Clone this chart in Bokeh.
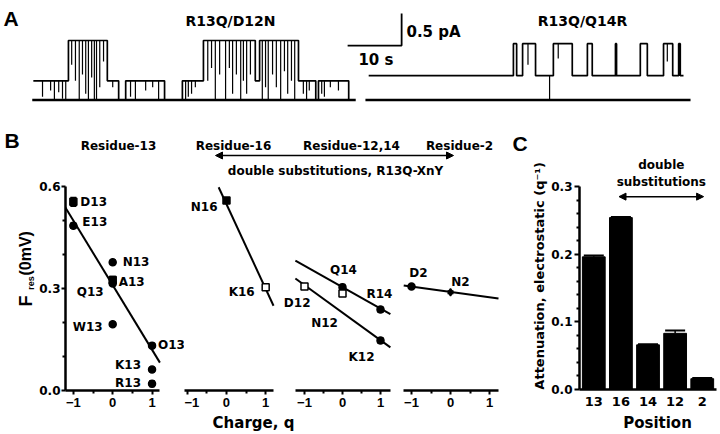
import numpy as np
from bokeh.plotting import figure
from bokeh.layouts import row, column
from bokeh.models import (Range1d, FixedTicker, Label, Whisker, TeeHead, ColumnDataSource,
                          Arrow, NormalHead, NumeralTickFormatter)
from bokeh.embed import file_html
from bokeh.resources import INLINE
from bokeh.core.properties import value

BOLD = "DejaVu Sans"
ARIAL = "Liberation Sans"

# ---------------- Panel A: single-channel recordings (time s, current pA) ----------------
trace1_name = "R13Q/D12N"
trace1_breaks = [4.6, 11.1, 18.3, 20.4, 21.7, 28.9, 32.2, 36.1, 45.7, 46.5, 53.7, 56.9, 57.4, 63.0, 63.3]
trace1_levels = [0.30, 0.93, 0.30, 0.0, 0.30, 0.0, 0.30, 0.93, 0.30, 0.93, 0.30, 0.0, 0.30, 0.0]
trace1_spike_t = [6.3, 7.8, 8.5, 9.3, 10.0, 10.6, 11.7, 12.4, 13.1, 13.7, 14.3, 14.8, 15.4, 15.9, 16.3,
                  16.9, 17.6, 19.3, 22.6, 23.5, 25.4, 26.7, 27.8, 32.8, 33.3, 33.9, 34.6, 36.9, 37.6,
                  38.3, 39.1, 40.2, 40.9, 41.5, 42.2, 43.0, 43.5, 44.1, 44.8, 47.0, 47.6, 48.1, 48.9,
                  49.6, 50.4, 51.1, 51.7, 52.4, 53.0, 54.6, 55.2, 55.7, 58.0, 58.5, 59.6, 61.1]
trace1_spike_to = [0.05, 0.15, 0.0, 0.12, 0.02, 0.0, 0.55, 0.3, 0.0, 0.4, 0.1, 0.0, 0.35, 0.0, 0.0,
                   0.2, 0.6, 0.2, 0.05, 0.0, 0.15, 0.2, 0.0, 0.0, 0.05, 0.1, 0.2, 0.3, 0.5,
                   0.0, 0.4, 0.0, 0.5, 0.1, 0.4, 0.0, 0.3, 0.1, 0.4, 0.0, 0.2, 0.0, 0.4,
                   0.2, 0.0, 0.45, 0.1, 0.3, 0.0, 0.1, 0.0, 0.15, 0.1, 0.05, 0.2, 0.15]
trace1_zero = [4.4, 64.3]

trace2_name = "R13Q/Q14R"
trace2_breaks = [66.7, 93.5, 94.1, 95.2, 97.6, 100.9, 104.4, 107.2, 108.1, 112.4, 112.6, 117.0,
                 118.3, 121.3, 123.0, 124.1, 124.4, 125.0]
trace2_levels = [0.38, 0.88, 0.38, 0.88, 0.38, 0.88, 0.38, 0.88, 0.38, 0.88, 0.38, 0.88, 0.38,
                 0.88, 0.38, 0.88, 0.38]
trace2_spike_t = [100.2, 96.2, 101.8, 122.0]
trace2_spike_to = [0.0, 0.55, 0.65, 0.6]
trace2_zero = [66.1, 126.3]

scale_time_s = 10.0
scale_current_pA = 0.5

# ---------------- Panel B: F_res(0 mV) vs charge ----------------
r13_names = ["D13", "E13", "N13", "A13", "Q13", "W13", "O13", "K13", "R13"]
r13_charge = [-1, -1, 0, 0, 0, 0, 1, 1, 1]
r13_fres = [0.555, 0.485, 0.377, 0.325, 0.315, 0.195, 0.132, 0.062, 0.020]
r13_err = [0.013, 0.008, 0.006, 0.010, 0.006, 0.006, 0.006, 0.006, 0.008]

r16_names = ["N16", "K16"]
r16_charge = [0, 1]
r16_fres = [0.559, 0.304]
r16_err = [0.008, 0.008]

r1214_names = ["Q14", "R14", "D12", "N12", "K12"]
r1214_charge = [0, 1, -1, 0, 1]
r1214_fres = [0.304, 0.238, 0.306, 0.285, 0.147]
r1214_err = [0.008, 0.008, 0.008, 0.008, 0.008]

r2_names = ["D2", "N2"]
r2_charge = [-1, 0]
r2_fres = [0.306, 0.289]
r2_err = [0.004, 0.004]

fit_group = ["13", "16", "14", "12", "2"]
fit_intercept = [0.310, 0.548, 0.304, 0.229, 0.290]
fit_slope = [-0.190, -0.249, -0.063, -0.081, -0.016]
fit_xmin = [-1.23, -0.20, -1.24, -1.24, -1.20]
fit_xmax = [1.20, 1.20, 1.26, 1.26, 1.23]

# ---------------- Panel C: electrostatic attenuation ----------------
positions = ["13", "16", "14", "12", "2"]
attenuation = [0.196, 0.254, 0.066, 0.083, 0.016]
attenuation_err = [0.002, 0.001, 0.001, 0.004, 0.001]


def base_fig(**kw):
    p = figure(toolbar_location=None, output_backend="svg", outline_line_color=None,
               background_fill_color="white", border_fill_color="white", **kw)
    p.grid.visible = False
    return p


def blank_fig(w, h, xr, yr):
    return base_fig(width=w, height=h, x_range=Range1d(*xr), y_range=Range1d(*yr),
                    x_axis_location=None, y_axis_location=None, min_border=0)


def put_text(p, xs, ys, texts, size, font=BOLD, align="center", angle=0.0):
    p.text(x=xs, y=ys, text=texts, text_font=value(font), text_font_style="bold",
           text_font_size=size, text_baseline="middle", text_align=align, text_color="black",
           angle=angle)


def step_xy(breaks, levels):
    xs, ys = [], []
    for k, lv in enumerate(levels):
        xs += [breaks[k], breaks[k + 1]]
        ys += [lv, lv]
    return xs, ys


def level_at(t, breaks, levels):
    k = int(np.searchsorted(breaks, t, side="right")) - 1
    return levels[k]


def style_axis(ax, tick_out, minor_out, standoff, font, size):
    ax.axis_line_width = 2.5
    ax.major_tick_line_width = 2
    ax.minor_tick_line_width = 2
    ax.major_tick_out = tick_out
    ax.major_tick_in = 0
    ax.minor_tick_out = minor_out
    ax.minor_tick_in = 0
    ax.major_label_standoff = standoff
    ax.major_label_text_font = font
    ax.major_label_text_font_style = "bold"
    ax.major_label_text_font_size = size
    ax.major_label_text_color = "black"


# ---------------- Figure A ----------------
pA = blank_fig(720, 125, (-1.481, 131.85), (-0.398, 1.555))
for brk, lev, st, sto, zero in [(trace1_breaks, trace1_levels, trace1_spike_t, trace1_spike_to, trace1_zero),
                                (trace2_breaks, trace2_levels, trace2_spike_t, trace2_spike_to, trace2_zero)]:
    xs, ys = step_xy(brk, lev)
    pA.line(xs, ys, line_color="black", line_width=1.7)
    top = [level_at(t, brk, lev) for t in st]
    pA.segment(x0=st, y0=top, x1=st, y1=sto, line_color="black", line_width=1.2)
    pA.line(zero, [0, 0], line_color="black", line_width=2.6)

sb_x, sb_y = 72.8, 0.85
pA.line([sb_x - scale_time_s, sb_x, sb_x], [sb_y, sb_y, sb_y + scale_current_pA],
        line_color="black", line_width=1.8)
put_text(pA, [sb_x + 0.9], [sb_y + 0.21], ["%g pA" % scale_current_pA], "15px", align="left")
put_text(pA, [sb_x - 8.0], [0.62], ["%d s" % scale_time_s], "15px", align="left")
put_text(pA, [41.1, 106.3], [1.24, 1.24], [trace1_name, trace2_name], "14px")
put_text(pA, [-0.93], [1.27], ["A"], "21px", font=ARIAL, align="left")

# ---------------- Header of B ----------------
pH = blank_fig(505, 55, (0, 505), (180, 125))
put_text(pH, [4], [140], ["B"], "21px", font=ARIAL, align="left")
put_text(pH, [118, 233, 351, 459], [145] * 4,
         ["Residue-13", "Residue-16", "Residue-12,14", "Residue-2"], "12px")
put_text(pH, [335], [170], ["double substitutions, R13Q-XnY"], "12px")
pH.add_layout(Arrow(x_start=215, y_start=155, x_end=453, y_end=155, line_width=1.5,
                    start=NormalHead(size=7, fill_color="black", line_color="black"),
                    end=NormalHead(size=7, fill_color="black", line_color="black")))

# ---------------- y label of B ----------------
pYL = blank_fig(36, 233, (0, 36), (413, 180))
put_text(pYL, [25], [318], ["F"], "18px", font=ARIAL, align="left", angle=np.pi / 2)
put_text(pYL, [30.5], [299], ["res"], "9px", font=ARIAL, align="left", angle=np.pi / 2)
put_text(pYL, [25], [283], ["(0mV)"], "16px", font=ARIAL, align="left", angle=np.pi / 2)


# ---------------- B panels ----------------
def b_panel(width, left, xr, bounds, yaxis=False):
    p = base_fig(width=width, height=233, x_range=Range1d(*xr), y_range=Range1d(0, 0.606),
                 min_border_left=left, min_border_right=0, min_border_top=4, min_border_bottom=23,
                 y_axis_location="left" if yaxis else None)
    ax = p.xaxis[0]
    ax.bounds = bounds
    ax.ticker = FixedTicker(ticks=[-1, 0, 1], minor_ticks=[-0.5, 0.5])
    style_axis(ax, 4, 3, 3, ARIAL, "13px")
    return p


def draw_points(p, names, xs, ys, errs, markers, fills, offsets):
    src = ColumnDataSource(dict(x=xs, y=ys, lo=[a - b for a, b in zip(ys, errs)],
                                hi=[a + b for a, b in zip(ys, errs)]))
    p.add_layout(Whisker(source=src, base="x", upper="hi", lower="lo", dimension="height",
                         line_width=1.5, line_color="black",
                         upper_head=TeeHead(size=6, line_width=1.5),
                         lower_head=TeeHead(size=6, line_width=1.5)))
    for n, x, y, m, f, (dx, dy, al) in zip(names, xs, ys, markers, fills, offsets):
        p.scatter([x], [y], marker=m, size=7, fill_color=f, line_color="black", line_width=1.5)
        p.add_layout(Label(x=x, y=y, text=n, x_offset=dx, y_offset=-dy, text_align=al,
                           text_baseline="middle", text_font=BOLD, text_font_style="bold",
                           text_font_size="12px", text_color="black"))


def draw_fit(p, k):
    x0, x1 = fit_xmin[k], fit_xmax[k]
    p.line([x0, x1], [fit_intercept[k] + fit_slope[k] * x0, fit_intercept[k] + fit_slope[k] * x1],
           line_color="black", line_width=2)


# B1 residue 13
pB1 = b_panel(148, 27, (-1.2, 1.825), (-1.2, 1.2), yaxis=True)
ya = pB1.yaxis[0]
ya.bounds = (0, 0.6)
ya.ticker = FixedTicker(ticks=[0, 0.3, 0.6], minor_ticks=[0.1, 0.2, 0.4, 0.5])
ya.formatter = NumeralTickFormatter(format="0.0")
style_axis(ya, 4, 3, 1, BOLD, "12px")
draw_fit(pB1, 0)
draw_points(pB1, r13_names, r13_charge, r13_fres, r13_err,
            ["square", "circle", "circle", "square", "circle", "circle", "circle", "circle", "circle"],
            ["black"] * 9,
            [(7, 0, "left"), (9, -4, "left"), (10, 0, "left"), (6, 2, "left"), (-9, 9, "right"),
             (-10, 3, "right"), (6, -1, "left"), (-11, -4, "right"), (-11, -1, "right")])

# B2 residue 16
pB2 = b_panel(98, 0, (-1.071, 1.429), (-1.2, 1.2))
draw_fit(pB2, 1)
draw_points(pB2, r16_names, r16_charge, r16_fres, r16_err, ["square", "square"], ["black", "white"],
            [(-9, 7, "right"), (-11, 5, "right")])

# B3 residues 12, 14
pB3 = b_panel(114, 0, (-1.579, 1.421), (-1.24, 1.26))
draw_fit(pB3, 2)
draw_fit(pB3, 3)
draw_points(pB3, r1214_names, r1214_charge, r1214_fres, r1214_err,
            ["circle", "circle", "square", "square", "circle"],
            ["black", "black", "white", "white", "black"],
            [(1, -17, "center"), (-1, -16, "center"), (6, 17, "right"), (-18, 29, "center"), (-19, 16, "center")])

# B4 residue 2
pB4 = b_panel(109, 0, (-1.385, 1.41), (-1.2, 1.23))
draw_fit(pB4, 4)
draw_points(pB4, r2_names, r2_charge, r2_fres, r2_err, ["circle", "diamond"], ["black", "black"],
            [(7, -13, "center"), (10, -10, "center")])

# ---------------- Panel C ----------------
pCL = blank_fig(43, 288, (505, 548), (413, 125))
put_text(pCL, [512], [145], ["C"], "21px", font=ARIAL, align="left")
put_text(pCL, [539], [289], ["Attenuation, electrostatic (q\u207b\u00b9)"], "13px", angle=np.pi / 2)

bar_x = list(range(1, len(positions) + 1))
pC = base_fig(width=172, height=288, x_range=Range1d(0.473, 5.673), y_range=Range1d(0, 0.3901),
              min_border_left=29, min_border_right=0, min_border_top=0, min_border_bottom=24)
pC.vbar(x=bar_x, top=attenuation, width=0.84, fill_color="black", line_color="black")
csrc = ColumnDataSource(dict(x=bar_x, lo=attenuation,
                             hi=[a + e for a, e in zip(attenuation, attenuation_err)]))
pC.add_layout(Whisker(source=csrc, base="x", upper="hi", lower="lo", dimension="height",
                      line_color="black", line_width=1.5, lower_head=None,
                      upper_head=TeeHead(size=20, line_width=2, line_color="black")))
cy = pC.yaxis[0]
cy.bounds = (0, 0.3)
cy.ticker = FixedTicker(ticks=[0, 0.1, 0.2, 0.3],
                        minor_ticks=[0.02, 0.04, 0.06, 0.08, 0.12, 0.14, 0.16, 0.18, 0.22, 0.24, 0.26, 0.28])
cy.formatter = NumeralTickFormatter(format="0.0")
style_axis(cy, 5, 3, 2, BOLD, "12px")
cx = pC.xaxis[0]
cx.bounds = (0.33, 5.53)
cx.ticker = FixedTicker(ticks=bar_x)
cx.major_label_overrides = {x: s for x, s in zip(bar_x, positions)}
style_axis(cx, 0, 0, 7, BOLD, "13px")
cx.major_tick_line_color = None
cx.minor_tick_line_color = None

put_text(pC, [3.49, 3.49], [0.331, 0.306], ["double", "substitutions"], "12px")
pC.add_layout(Arrow(x_start=1.93, y_start=0.285, x_end=5.05, y_end=0.285, line_width=1.5,
                    start=NormalHead(size=7, fill_color="black", line_color="black"),
                    end=NormalHead(size=7, fill_color="black", line_color="black")))

# ---------------- bottom axis titles ----------------
pFoot = blank_fig(720, 21, (0, 720), (434, 413))
put_text(pFoot, [253, 657], [422, 422], ["Charge, q", "Position"], "15px")

layout = column(pA, row(column(pH, row(pYL, pB1, pB2, pB3, pB4)), pCL, pC), pFoot)
open("out.html", "w").write(file_html(layout, INLINE))
